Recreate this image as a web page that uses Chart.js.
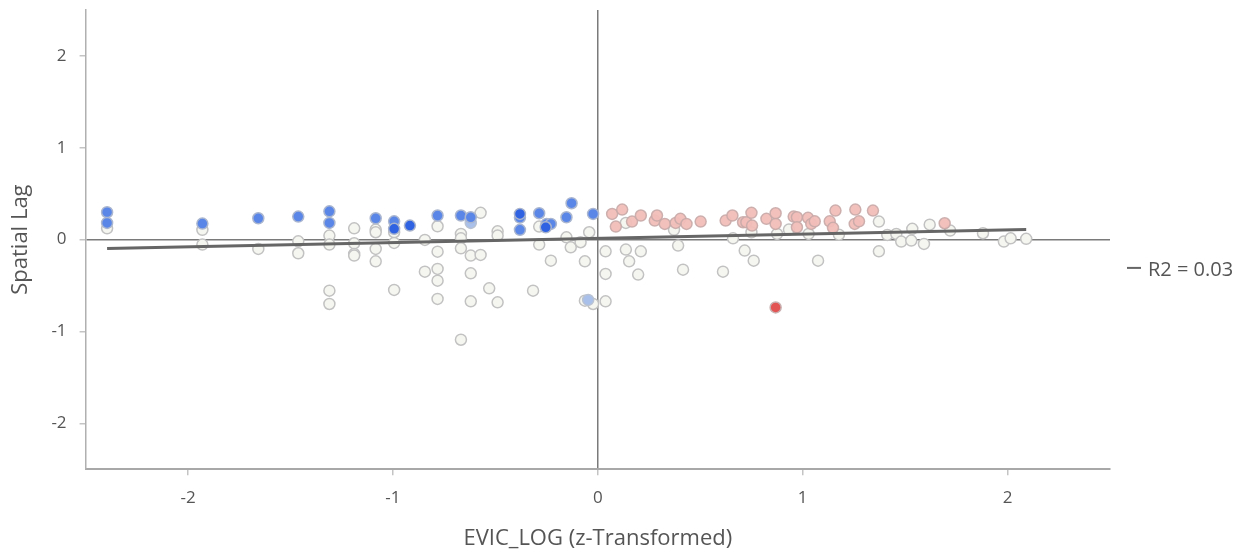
<!DOCTYPE html>
<html>
<head>
<meta charset="utf-8">
<script src="https://cdn.jsdelivr.net/npm/chart.js@4/dist/chart.umd.min.js"></script>
<style>
  html, body { margin: 0; padding: 0; background: #ffffff; }
  #wrap { width: 1247px; height: 552px; position: relative; }
</style>
</head>
<body>
<div id="wrap"><canvas id="c" width="1247" height="552"></canvas></div>
<script>
// ---- Data ----
const xTickValues = [-2, -1, 0, 1, 2];
const yTickValues = [-2, -1, 0, 1, 2];

// Not significant points
const nsX = [-2.395,-1.930,-1.930,-1.657,-1.462,-1.462,-1.310,-1.310,-1.310,-1.310,-1.189,-1.189,-1.189,-1.189,-1.084,-1.084,-1.084,-1.084,-0.994,-0.994,-0.994,-0.844,-0.844,-0.782,-0.782,-0.782,-0.782,-0.782,-0.668,-0.668,-0.668,-0.668,-0.620,-0.620,-0.620,-0.572,-0.572,-0.530,-0.489,-0.489,-0.489,-0.316,-0.286,-0.286,-0.229,-0.153,-0.132,-0.084,-0.063,-0.063,-0.042,-0.023,0.038,0.038,0.038,0.137,0.137,0.153,0.210,0.197,0.372,0.392,0.416,0.611,0.660,0.717,0.750,0.761,0.875,0.933,1.029,1.075,1.177,1.372,1.372,1.413,1.457,1.481,1.535,1.530,1.592,1.620,1.720,1.880,1.982,2.015,2.091];
const nsY = [0.123,0.106,-0.054,-0.101,-0.019,-0.149,0.044,-0.054,-0.556,-0.701,0.123,-0.040,-0.156,-0.174,0.109,0.080,-0.101,-0.237,0.080,-0.036,-0.548,-0.003,-0.349,0.145,-0.131,-0.319,-0.447,-0.646,0.062,0.014,-0.095,-1.090,-0.174,-0.367,-0.672,0.291,-0.167,-0.531,0.090,0.044,-0.683,-0.556,0.142,-0.054,-0.229,0.025,-0.084,-0.029,-0.237,-0.665,0.080,-0.701,-0.128,-0.374,-0.672,0.182,-0.109,-0.237,-0.128,-0.381,0.106,-0.065,-0.327,-0.349,0.014,-0.120,0.080,-0.229,0.062,0.109,0.062,-0.229,0.054,0.196,-0.128,0.051,0.062,-0.022,0.117,-0.011,-0.047,0.163,0.098,0.069,-0.022,0.014,0.008];

// Low (blue) points
const lowX = [-2.395,-2.395,-1.930,-1.657,-1.462,-1.310,-1.310,-1.084,-0.994,-0.782,-0.668,-0.620,-0.380,-0.380,-0.286,-0.250,-0.229,-0.153,-0.128,-0.023];
const lowY = [0.298,0.182,0.174,0.232,0.251,0.308,0.182,0.232,0.199,0.262,0.262,0.243,0.240,0.106,0.287,0.171,0.171,0.243,0.396,0.280];

// Low (darker blue) points
const lowStrongX = [-0.994,-0.917,-0.380,-0.254];
const lowStrongY = [0.117,0.153,0.280,0.134];

// Low (light blue) points
const lowLightX = [-0.620,-0.047];
const lowLightY = [0.182,-0.657];

// High (pink) points
const highX = [0.070,0.119,0.088,0.167,0.210,0.278,0.289,0.327,0.380,0.403,0.433,0.502,0.624,0.657,0.709,0.725,0.750,0.753,0.823,0.868,0.868,0.956,0.972,0.972,1.026,1.042,1.059,1.132,1.160,1.148,1.257,1.254,1.343,1.275,1.693];
const highY = [0.280,0.327,0.142,0.196,0.262,0.207,0.262,0.171,0.182,0.226,0.171,0.196,0.207,0.262,0.189,0.189,0.291,0.153,0.226,0.287,0.171,0.251,0.243,0.134,0.237,0.171,0.199,0.199,0.316,0.128,0.327,0.171,0.316,0.199,0.178];

// Outlier (red) point
const outX = [0.868];
const outY = [-0.738];

// Regression line
const regX = [-2.395, 2.091];
const regY = [-0.098, 0.109];
const r2Label = 'R2 = 0.03';

const xTitle = 'EVIC_LOG (z-Transformed)';
const yTitle = 'Spatial Lag';

// ---- Build ----
const pts = (xs, ys) => xs.map((x, i) => ({ x: x, y: ys[i] }));
const FONT = "'Open Sans', 'Noto Sans', sans-serif";
const TXT = '#555555';

function scatterSet(label, xs, ys, fill, stroke) {
  return {
    type: 'scatter', label: label, data: pts(xs, ys),
    backgroundColor: fill, borderColor: stroke,
    pointRadius: 5.5, pointBorderWidth: 1.5, pointHoverRadius: 5.5
  };
}

const datasets = [
  {
    type: 'line', label: r2Label, data: pts(regX, regY),
    borderColor: '#666666', borderWidth: 3, pointRadius: 0, fill: false, tension: 0
  },
  scatterSet('out', outX, outY, '#e25454', '#c9b0b0'),
  scatterSet('highLight', highX, highY, 'rgba(242,190,184,0.95)', 'rgba(200,170,168,0.9)'),
  scatterSet('lowStrong', lowStrongX, lowStrongY, '#2e62e2', '#a9b4cc'),
  scatterSet('low', lowX, lowY, '#5a86e8', '#aab6cf'),
  scatterSet('lowLight', lowLightX, lowLightY, '#a9c0ea', '#b8c2d2'),
  scatterSet('ns', nsX, nsY, '#f6f6f1', '#c2c2c2')
];

const legendPlugin = {
  id: 'r2legend',
  afterDraw(chart) {
    const ctx = chart.ctx;
    const area = chart.chartArea;
    const x0 = area.right + 17;
    const y0 = chart.scales.y.getPixelForValue(-0.33);
    ctx.save();
    ctx.strokeStyle = '#666666';
    ctx.lineWidth = 2;
    ctx.beginPath();
    ctx.moveTo(x0, y0 - 2);
    ctx.lineTo(x0 + 14, y0 - 2);
    ctx.stroke();
    ctx.fillStyle = TXT;
    ctx.font = "20px " + FONT;
    ctx.textBaseline = 'middle';
    ctx.textAlign = 'left';
    ctx.fillText(r2Label, x0 + 21, y0);
    ctx.restore();
  }
};

function zeroGrid(ctx) {
  return (ctx.tick && ctx.tick.value === 0) ? '#7a7a7a' : 'rgba(0,0,0,0)';
}

new Chart(document.getElementById('c'), {
  data: { datasets: datasets },
  options: {
    responsive: false,
    animation: false,
    events: [],
    layout: { padding: { top: 10, right: 137, bottom: 0, left: 8 } },
    plugins: { legend: { display: false }, tooltip: { enabled: false } },
    scales: {
      x: {
        type: 'linear', min: -2.5, max: 2.5,
        afterBuildTicks: (axis) => { axis.ticks = xTickValues.map(v => ({ value: v })); },
        grid: { color: zeroGrid, lineWidth: 1.5, tickColor: '#c4c4c4', tickLength: 6, drawOnChartArea: true },
        border: { color: '#a8a8a8', width: 2 },
        ticks: { color: TXT, font: { family: FONT, size: 17 }, padding: 13 },
        title: { display: true, text: xTitle, color: TXT, font: { family: FONT, size: 22 }, padding: { top: 4, bottom: 0 } }
      },
      y: {
        type: 'linear', min: -2.5, max: 2.5,
        afterBuildTicks: (axis) => { axis.ticks = yTickValues.map(v => ({ value: v })); },
        afterFit: (scale) => { scale.paddingTop = 0; scale.paddingBottom = 0; },
        grid: { color: zeroGrid, lineWidth: 1.5, tickColor: '#c4c4c4', tickLength: 6, drawOnChartArea: true },
        border: { color: '#b0b0b0', width: 1.5 },
        ticks: { color: TXT, font: { family: FONT, size: 17 }, padding: 13 },
        title: { display: true, text: yTitle, color: TXT, font: { family: FONT, size: 22 }, padding: { top: 0, bottom: 4 } }
      }
    }
  },
  plugins: [legendPlugin]
});
</script>
</body>
</html>
